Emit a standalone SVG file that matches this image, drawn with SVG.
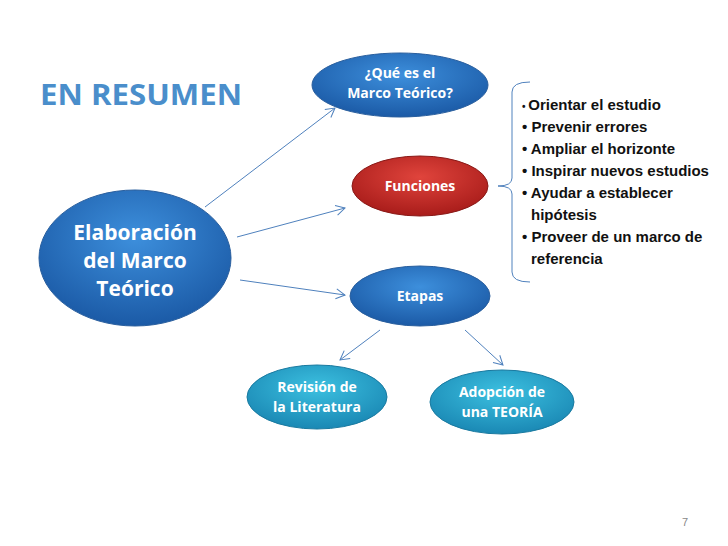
<svg xmlns="http://www.w3.org/2000/svg" width="728" height="546" viewBox="0 0 728 546">
<style>
.t{font-family:"Open Sans","Liberation Sans",sans-serif;font-weight:bold;fill:#fff;text-anchor:middle}
.b{font-family:"Liberation Sans",sans-serif;font-weight:bold;font-size:15px;fill:#111}
.c{stroke:#4f81bd;stroke-width:1;fill:none;marker-end:url(#a)}
</style>
<defs>
<marker id="a" markerWidth="12" markerHeight="12" refX="10" refY="6" orient="auto" markerUnits="userSpaceOnUse"><path d="M1,1 L10,6 L1,11" fill="none" stroke="#4f81bd" stroke-width="1"/></marker>
<radialGradient id="gb" cx="0.5" cy="0.35" r="0.65"><stop offset="0" stop-color="#3d8fdc"/><stop offset="1" stop-color="#1b5aa6"/></radialGradient>
<radialGradient id="gr" cx="0.5" cy="0.35" r="0.65"><stop offset="0" stop-color="#e0443c"/><stop offset="1" stop-color="#a81c1a"/></radialGradient>
<radialGradient id="gc" cx="0.5" cy="0.35" r="0.65"><stop offset="0" stop-color="#3cc0e0"/><stop offset="1" stop-color="#1a88b4"/></radialGradient>
</defs>
<rect width="728" height="546" fill="#fff"/>
<text x="40" y="105" font-family="Open Sans,Liberation Sans,sans-serif" font-weight="bold" font-size="29" fill="#4a8ecb" textLength="202" lengthAdjust="spacingAndGlyphs">EN RESUMEN</text>
<g id="connectors">
<path class="c" d="M205,207 L335,108"/>
<path class="c" d="M237,237 L345,208"/>
<path class="c" d="M240,280 L345,295"/>
<path class="c" d="M380,330 L340,360"/>
<path class="c" d="M465,330 L503,365"/>
<path d="M530,82 Q512,82 512,92 L512,178 Q512,186 498,186 Q512,186 512,194 L512,272 Q512,282 530,282" fill="none" stroke="#4f81bd" stroke-width="1"/>
</g>
<g id="main"><ellipse cx="135" cy="258" rx="96" ry="68" fill="url(#gb)" stroke="#2a5f9e"/>
<text class="t" font-size="21"><tspan x="135" y="240">Elaboración</tspan><tspan x="135" y="268">del Marco</tspan><tspan x="135" y="296">Teórico</tspan></text></g>
<g id="que"><ellipse cx="400" cy="85" rx="88" ry="32" fill="url(#gb)" stroke="#2a5f9e"/>
<text class="t" font-size="14"><tspan x="400" y="78">¿Qué es el</tspan><tspan x="400" y="98">Marco Teórico?</tspan></text></g>
<g id="funciones"><ellipse cx="420" cy="186" rx="68" ry="30" fill="url(#gr)" stroke="#8a1a18"/>
<text class="t" font-size="14" x="420" y="191">Funciones</text></g>
<g id="etapas"><ellipse cx="420" cy="296" rx="70" ry="30" fill="url(#gb)" stroke="#2a5f9e"/>
<text class="t" font-size="14" x="420" y="301">Etapas</text></g>
<g id="revision"><ellipse cx="317" cy="397" rx="70" ry="32" fill="url(#gc)" stroke="#1a7aa0"/>
<text class="t" font-size="14"><tspan x="317" y="392">Revisión de</tspan><tspan x="317" y="412">la Literatura</tspan></text></g>
<g id="adopcion"><ellipse cx="502" cy="402" rx="72" ry="32" fill="url(#gc)" stroke="#1a7aa0"/>
<text class="t" font-size="14"><tspan x="502" y="397">Adopción de</tspan><tspan x="502" y="417">una TEORÍA</tspan></text></g>
<g id="lista">
<text class="b" x="522" y="110"><tspan font-size="10">• </tspan>Orientar el estudio</text>
<text class="b" x="522" y="132">• Prevenir errores</text>
<text class="b" x="522" y="154">• Ampliar el horizonte</text>
<text class="b" x="522" y="176">• Inspirar nuevos estudios</text>
<text class="b" x="522" y="198">• Ayudar a establecer</text>
<text class="b" x="531" y="220">hipótesis</text>
<text class="b" x="522" y="242">• Proveer de un marco de</text>
<text class="b" x="531" y="264">referencia</text>
</g>
<text x="682" y="526" font-family="Liberation Sans,sans-serif" font-size="11" fill="#888">7</text>
</svg>
